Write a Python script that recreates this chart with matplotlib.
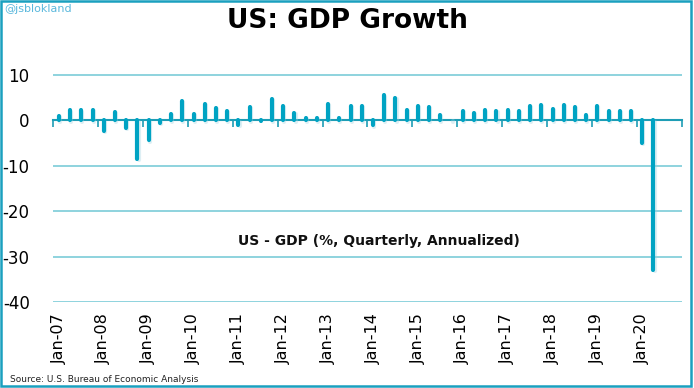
import matplotlib.pyplot as plt
import matplotlib.patheffects as pe
from matplotlib.patches import Rectangle
import numpy as np

# quarterly GDP growth, % annualized, 2007Q1 .. 2020Q2
gdp = [1.0, 2.2, 2.2, 2.4,
       -2.3, 1.9, -1.7, -8.4,
       -4.4, -0.6, 1.4, 4.3,
       1.5, 3.7, 2.7, 2.0,
       -1.0, 2.9, -0.1, 4.7,
       3.2, 1.7, 0.5, 0.5,
       3.6, 0.5, 3.2, 3.2,
       -1.1, 5.5, 5.0, 2.3,
       3.2, 3.0, 1.3, 0.1,
       2.0, 1.7, 2.2, 2.0,
       2.2, 2.0, 3.1, 3.5,
       2.5, 3.5, 2.9, 1.1,
       3.1, 2.0, 2.1, 2.1,
       -5.0, -32.9]
n_slots = 56  # axis runs through 2020Q4
years = list(range(2007, 2021))
year_labels = ["Jan-%02d" % (y % 100) for y in years]
yticks = [10, 0, -10, -20, -30, -40]

bar_col = "#00a3c3"
grid_col = "#86d0db"
axis_col = "#1e9db5"

fig = plt.figure(figsize=(6.94, 3.88), dpi=100)
ax = fig.add_axes([0.0768, 0.2216, 0.9052, 0.6084])

x = np.arange(len(gdp))
ax.vlines(x, 0, gdp, colors=bar_col, linewidth=3.0, capstyle="round", zorder=3,
          path_effects=[pe.SimpleLineShadow(offset=(0.8, -0.8), shadow_color="#9fd3e2", alpha=0.35),
                        pe.Normal()])

ax.set_xlim(-0.5, n_slots - 0.5)
ax.set_ylim(-40, 12)

for v in yticks:
    if v != 0:
        ax.axhline(v, color=grid_col, linewidth=1.3, zorder=1)

ax.set_yticks(yticks)
ax.set_yticklabels([str(v) for v in yticks])
ax.tick_params(axis="y", length=0, pad=17, labelsize=12)

ax.set_xticks(np.arange(0, n_slots, 4))
ax.set_xticklabels(year_labels, rotation=90, fontsize=11.5)
ax.tick_params(axis="x", length=0, pad=8)

for s in ax.spines.values():
    s.set_visible(False)

# zero axis with tick marks between years
zero_frac = (0 - (-40)) / (12 - (-40))
sec = ax.secondary_xaxis(zero_frac)
sec.set_xticks(np.arange(-0.5, n_slots, 4))
sec.set_xticklabels([])
sec.tick_params(axis="x", direction="in", length=5, width=1.2, color=axis_col)
for s in sec.spines.values():
    s.set_color(axis_col)
    s.set_linewidth(1.5)
    s.set_zorder(4)

ax.text(28.5, -26.5, "US - GDP (%, Quarterly, Annualized)", ha="center", va="center",
        fontsize=10, fontweight="bold", color="#111111")

fig.text(0.5, 0.945, "US: GDP Growth", ha="center", va="center",
         fontsize=19, fontweight="bold", color="black")
fig.text(0.006, 0.978, "@jsblokland", ha="left", va="center", fontsize=8, color="#5ab8dc")
fig.text(0.014, 0.023, "Source: U.S. Bureau of Economic Analysis", ha="left", va="center",
         fontsize=6.5, color="#222222")

fig.patches.append(Rectangle((0.002, 0.004), 0.994, 0.993, transform=fig.transFigure,
                             fill=False, edgecolor="#1aa0bf", linewidth=1.8))

fig.savefig("out.png", dpi=100)
